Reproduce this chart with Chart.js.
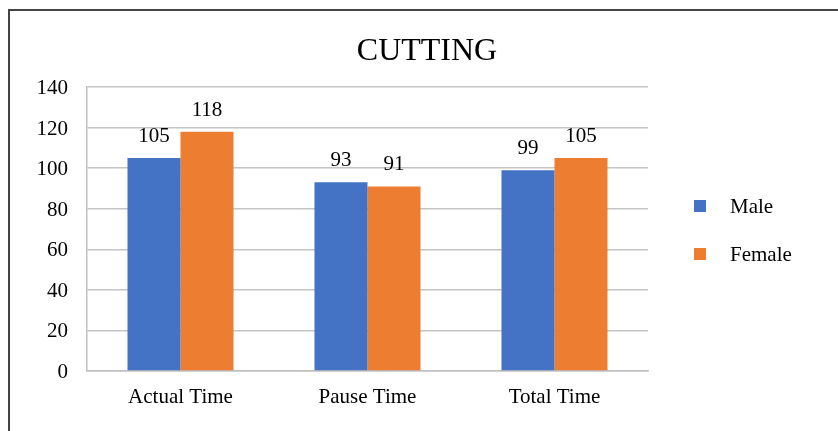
<!DOCTYPE html>
<html>
<head>
<meta charset="utf-8">
<script src="https://cdn.jsdelivr.net/npm/chart.js@4"></script>
<style>
  html, body { margin: 0; padding: 0; background: #fff; }
  #wrap { position: relative; width: 838px; height: 431px; overflow: hidden; }
  #frame { position: absolute; left: 8px; top: 9px; width: 900px; height: 500px;
           border-left: 2px solid #444; border-top: 2px solid #444; box-sizing: border-box; pointer-events: none; }
  canvas { position: absolute; left: 0; top: 0; }
</style>
</head>
<body>
<div id="wrap">
  <canvas id="chart" width="838" height="431"></canvas>
  <div id="frame"></div>
</div>
<script>
// Cutting task times by gender
const categories = ['Actual Time', 'Pause Time', 'Total Time'];
const maleValues = [105, 93, 99];
const femaleValues = [118, 91, 105];
const seriesNames = ['Male', 'Female'];
const yTicks = [0, 20, 40, 60, 80, 100, 120, 140];
const chartTitle = 'CUTTING';

const SERIF = '"Liberation Serif", "Times New Roman", serif';
const colors = ['#4472C4', '#ED7D31'];

// title centred across the whole frame
const frameTitle = {
  id: 'frameTitle',
  afterDraw(chart) {
    const ctx = chart.ctx;
    ctx.save();
    ctx.font = '32px ' + SERIF;
    ctx.fillStyle = '#000';
    ctx.textAlign = 'center';
    ctx.textBaseline = 'alphabetic';
    ctx.fillText(chartTitle, 427, 60);
    ctx.restore();
  }
};

// value labels above each bar
const barLabels = {
  id: 'barLabels',
  afterDatasetsDraw(chart) {
    const ctx = chart.ctx;
    ctx.save();
    ctx.font = '21px ' + SERIF;
    ctx.fillStyle = '#000';
    ctx.textAlign = 'center';
    ctx.textBaseline = 'alphabetic';
    chart.data.datasets.forEach((ds, i) => {
      chart.getDatasetMeta(i).data.forEach((bar, j) => {
        ctx.fillText(String(ds.data[j]), bar.x, bar.y - 16);
      });
    });
    ctx.restore();
  }
};

// legend on the right: square swatch followed by series name
const sideLegend = {
  id: 'sideLegend',
  afterDraw(chart) {
    const ctx = chart.ctx;
    ctx.save();
    ctx.font = '21px ' + SERIF;
    ctx.textBaseline = 'middle';
    ctx.textAlign = 'left';
    chart.data.datasets.forEach((ds, i) => {
      const cy = 206 + i * 48;
      ctx.fillStyle = ds.backgroundColor;
      ctx.fillRect(694, cy - 6, 12, 12);
      ctx.fillStyle = '#000';
      ctx.fillText(ds.label, 730, cy + 1);
    });
    ctx.restore();
  }
};

new Chart(document.getElementById('chart'), {
  type: 'bar',
  data: {
    labels: categories,
    datasets: [
      { label: seriesNames[0], data: maleValues, backgroundColor: colors[0] },
      { label: seriesNames[1], data: femaleValues, backgroundColor: colors[1] }
    ]
  },
  options: {
    responsive: false,
    animation: false,
    devicePixelRatio: 1,
    layout: { padding: { top: 87, right: 190, bottom: 0, left: 0 } },
    datasets: { bar: { barPercentage: 1, categoryPercentage: 0.567 } },
    plugins: {
      legend: { display: false },
      tooltip: { enabled: false },
      title: { display: false }
    },
    scales: {
      x: {
        grid: { display: false, drawTicks: false },
        border: { display: true, color: '#bfbfbf', width: 1.5 },
        ticks: { color: '#000', font: { family: SERIF, size: 21 }, padding: 14 },
        afterFit(scale) { scale.height = 60; }
      },
      y: {
        min: 0,
        max: 140,
        afterBuildTicks(scale) { scale.ticks = yTicks.map(v => ({ value: v })); },
        grid: { color: '#c4c4c4', lineWidth: 1.5, drawTicks: false },
        border: { display: true, color: '#bfbfbf', width: 1.5 },
        ticks: { color: '#000', font: { family: SERIF, size: 21 }, padding: 19, labelOffset: 1.5 },
        afterFit(scale) { scale.width = 87; }
      }
    }
  },
  plugins: [barLabels, sideLegend, frameTitle]
});
</script>
</body>
</html>
